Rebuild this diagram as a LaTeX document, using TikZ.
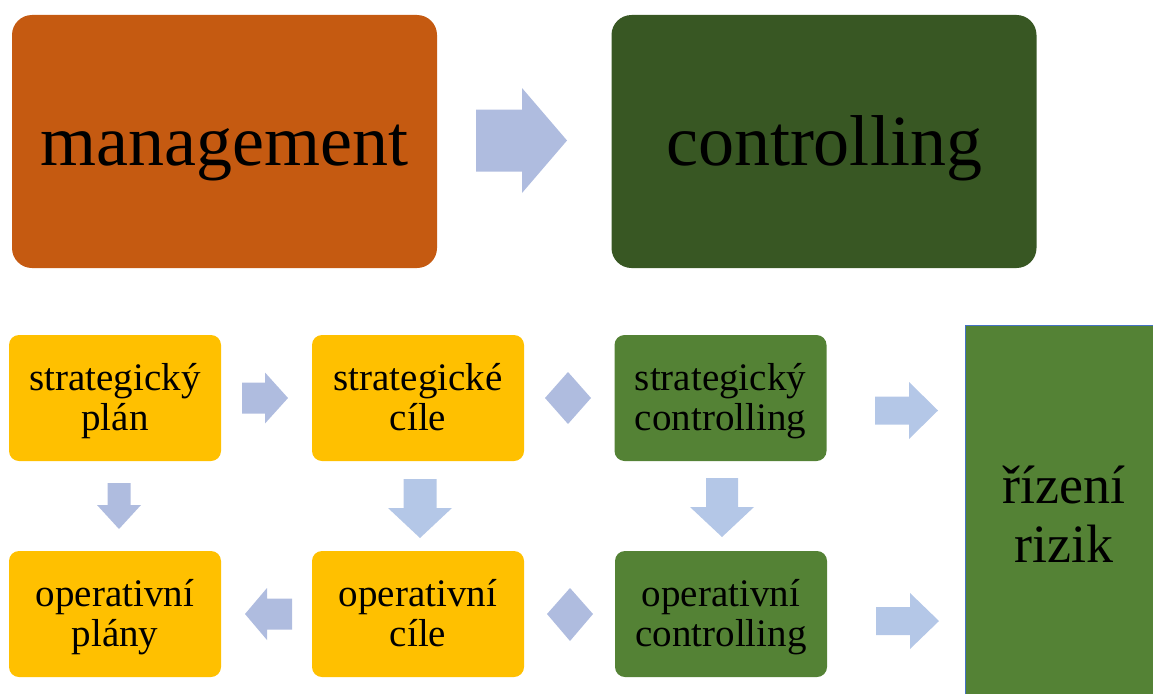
\documentclass[tikz,border=0pt]{standalone}
\usepackage{fontspec}
\setmainfont{Liberation Serif}
\definecolor{mgmtorange}{HTML}{C55A11}
\definecolor{ctrldark}{HTML}{385723}
\definecolor{planyellow}{HTML}{FFC000}
\definecolor{ctrlgreen}{HTML}{548235}
\definecolor{lavender}{HTML}{AFBCDF}
\definecolor{paleblue}{HTML}{B4C7E7}
\definecolor{edgeblue}{HTML}{4472C4}
% two centred lines with fixed top and bottom
\newcommand{\twolines}[2]{\rule{0pt}{33pt}#1\\#2\rule[-9pt]{0pt}{9pt}}
\tikzset{
  bigbox/.style={rounded corners=20pt,minimum width=425pt,minimum height=253pt,inner sep=0pt,
    text height=63pt,text depth=16pt,font=\fontsize{72}{80}\selectfont},
  box/.style={rounded corners=10pt,minimum width=212pt,minimum height=126pt,inner sep=0pt,align=center,font=\fontsize{39}{40}\selectfont},
  % length, head length, shaft width, head width, colour
  pics/blockarrow/.style args={#1,#2,#3,#4,#5}{code={
    \fill[#5] (-#1/2,-#3/2) -- (#1/2-#2,-#3/2) -- (#1/2-#2,-#4/2) -- (#1/2,0)
      -- (#1/2-#2,#4/2) -- (#1/2-#2,#3/2) -- (-#1/2,#3/2) -- cycle;
  }}
}
\begin{document}
\begin{tikzpicture}[x=1pt,y=-1pt]
\useasboundingbox (0,0) rectangle (1153,693);
\clip (0,0) rectangle (1153,693);
% top row
\node[bigbox,fill=mgmtorange] (mgmt) at (224.5,141.5) {management};
\node[bigbox,fill=ctrldark] (ctrl) at (824,141.5) {controlling};
\pic at (521.5,140.5) {blockarrow={91,45,62,105,lavender}};
% strategic and operative boxes
\node[box,fill=planyellow] (splan) at (115,398) {\twolines{strategický}{plán}};
\node[box,fill=planyellow] (scile) at (418,398) {\twolines{strategické}{cíle}};
\node[box,fill=ctrlgreen] (sctrl) at (720.5,398) {\twolines{strategický}{controlling}};
\node[box,fill=planyellow] (oplan) at (115,614) {\twolines{operativní}{plány}};
\node[box,fill=planyellow] (ocile) at (418,614) {\twolines{operativní}{cíle}};
\node[box,fill=ctrlgreen] (octrl) at (721,614) {\twolines{operativní}{controlling}};
\node[draw=edgeblue,line width=1pt,fill=ctrlgreen,minimum width=198pt,minimum height=378pt,
  align=center,font=\fontsize{54}{59}\selectfont] (rizik) at (1064,514) {řízení\\rizik};
% arrows between the boxes
\pic at (265,398) {blockarrow={46,23,31,51,lavender}};
\pic[rotate=-90] at (119,506) {blockarrow={46,24,23,44,lavender}};
\pic[rotate=-90] at (420,508.5) {blockarrow={59,30,33,64,paleblue}};
\pic[rotate=-90] at (722,507.5) {blockarrow={59,30,32,64,paleblue}};
\pic[rotate=180] at (268.5,614) {blockarrow={47,22,31,52,lavender}};
\pic at (906.5,410.5) {blockarrow={63,29,28,57,paleblue}};
\pic at (907.5,621) {blockarrow={63,29,28,56,paleblue}};
% diamonds
\fill[lavender] (568,372) -- (591,398) -- (568,424) -- (545,398) -- cycle;
\fill[lavender] (570,588) -- (593,614) -- (570,641) -- (547,614) -- cycle;
\end{tikzpicture}
\end{document}
